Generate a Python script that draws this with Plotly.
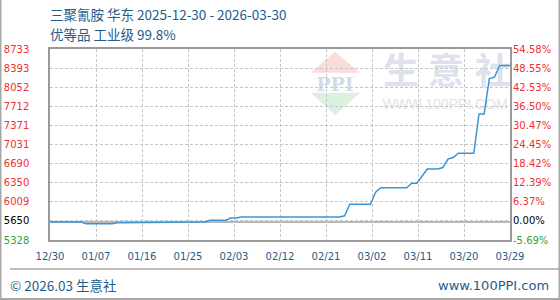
import numpy as np
import pandas as pd
import plotly.graph_objects as go

# ---------------- data ----------------
start_date = "2025-12-30"
end_date = "2026-03-29"
prices = (
    [5650] * 7 + [5620] * 6 + [5637] * 10 + [5650] * 8 + [5680] * 4 + [5720] * 2
    + [5740] * 20 + [5760] + [5965] * 5 + [6180] + [6260] * 6 + [6340] * 2
    + [6470] + [6595] * 3 + [6620] + [6770] + [6800] + [6875] * 4 + [7575] * 2
    + [8205] + [8230] + [8440] * 3
)
base_price = 5650
y_min, y_max = 5328.5, 8733.5
left_tick_labels = ["5328", "5650", "6009", "6350", "6690", "7031",
                    "7371", "7712", "8052", "8393", "8733"]
right_tick_labels = ["-5.69%", "0.00%", "6.37%", "12.39%", "18.42%", "24.45%",
                     "30.47%", "36.50%", "42.53%", "48.55%", "54.58%"]
x_tick_labels = ["12/30", "01/07", "01/16", "01/25", "02/03", "02/12",
                 "02/21", "03/02", "03/11", "03/20", "03/29"]
title_line1 = "三聚氰胺 华东 2025-12-30 - 2026-03-30"
title_line2 = "优等品 工业级 99.8%"
footer_left = "© 2026.03 生意社"
footer_right = "www.100PPI.com"

# ---------------- layout helpers ----------------
W, H = 560, 300
L, R, T, B = 50, 50, 49, 60
PW, PH = W - L - R, H - T - B


def px(x):
    return (x - L) / PW


def py(y):
    return (H - B - y) / PH


dates = pd.date_range(start_date, periods=len(prices), freq="D")
t0, t1 = pd.Timestamp(start_date), pd.Timestamp(end_date)
x_tickvals = [pd.Timestamp(int(v)).strftime("%Y-%m-%d %H:%M:%S")
              for v in np.linspace(t0.value, t1.value, len(x_tick_labels))]
y_tickvals = np.linspace(y_min, y_max, len(left_tick_labels))

RED, GREEN, BLACK = "#f03030", "#2fa52f", "#000000"
BLUE_TXT = "#1e5d8c"


def colored(labels):
    out = []
    for i, lab in enumerate(labels):
        if i == 1:
            c = BLACK
        elif i == 0:
            c = GREEN
        else:
            c = RED
        out.append(f"<span style='color:{c}'>{lab}</span>")
    return out


fig = go.Figure()
fig.add_trace(go.Scatter(x=dates, y=prices, mode="lines",
                         line=dict(color="#3a95d5", width=1.5),
                         hoverinfo="skip", showlegend=False))
fig.add_trace(go.Scatter(x=dates, y=prices, mode="lines", yaxis="y2",
                         line=dict(color="rgba(0,0,0,0)", width=0),
                         hoverinfo="skip", showlegend=False))

tick_font = dict(family="DejaVu Sans", size=10, color=BLUE_TXT)
fig.update_layout(
    width=W, height=H,
    margin=dict(l=L, r=R, t=T, b=B, pad=0),
    paper_bgcolor="white", plot_bgcolor="white",
    showlegend=False,
    xaxis=dict(
        type="date", range=[t0, t1], automargin=False,
        tickmode="array", tickvals=x_tickvals, ticktext=x_tick_labels,
        showgrid=True, gridcolor="#c6c6c6", griddash="3px,2px", gridwidth=1,
        showline=True, linecolor="#9a9a9a", linewidth=1.5, mirror=True,
        ticks="", tickfont=tick_font, zeroline=False, ticklabelstandoff=6,
    ),
    yaxis=dict(
        range=[y_min, y_max], tickmode="array", tickvals=y_tickvals,
        ticktext=colored(left_tick_labels), automargin=False,
        showgrid=True, gridcolor="#c6c6c6", griddash="3px,2px", gridwidth=1,
        showline=True, linecolor="#9a9a9a", linewidth=1.5, mirror=True,
        ticks="", tickfont=dict(family="DejaVu Sans", size=10), zeroline=False,
        ticklabelstandoff=17,
    ),
    yaxis2=dict(
        range=[y_min, y_max], tickmode="array", tickvals=y_tickvals,
        ticktext=colored(right_tick_labels), overlaying="y", side="right",
        showgrid=False, showline=False, ticks="", zeroline=False,
        automargin=False,
        tickfont=dict(family="DejaVu Sans", size=10), ticklabelstandoff=2,
    ),
)

shapes = []
# base price reference line
shapes.append(dict(type="line", xref="paper", yref="y", x0=0, x1=1,
                   y0=base_price, y1=base_price,
                   line=dict(color="#a0a0a0", width=1.5), layer="below"))
# watermark triangles
shapes.append(dict(type="path", xref="paper", yref="paper",
                   path=f"M {px(335)} {py(51.7)} L {px(310.7)} {py(72.7)} L {px(360)} {py(72.7)} Z",
                   fillcolor="#fadcdc", line=dict(width=0), layer="below"))
shapes.append(dict(type="path", xref="paper", yref="paper",
                   path=f"M {px(310.7)} {py(92.7)} L {px(360)} {py(92.7)} L {px(335)} {py(115)} Z",
                   fillcolor="#dcf0e0", line=dict(width=0), layer="below"))


def label_box(cx, cy, text, size, color, family, w=60, h=40):
    return dict(type="rect", xref="paper", yref="paper",
                x0=px(cx - w / 2), x1=px(cx + w / 2),
                y0=py(cy + h / 2), y1=py(cy - h / 2),
                line=dict(width=0), fillcolor="rgba(0,0,0,0)", layer="below",
                label=dict(text=text, textposition="middle center",
                           font=dict(size=size, color=color, family=family)))


shapes.append(label_box(335, 83, "<b>PPI</b>", 19, "#d3dae8", "DejaVu Serif"))
for cx, ch in zip([401, 446, 493], "生意社"):
    shapes.append(label_box(cx, 73.5, f"<b>{ch}</b>", 36, "#dde2ec",
                            "Noto Sans CJK SC"))
shapes.append(label_box(445, 103, "WWW.100PPI.COM", 14, "#e3e3e3",
                        "Liberation Sans", w=140, h=20))

# outer frame & separator
frame_col = "#a8a8a8"
shapes.append(dict(type="line", xref="paper", yref="paper",
                   x0=px(10), x1=px(560), y0=py(269), y1=py(269),
                   line=dict(color=frame_col, width=1.5)))
shapes.append(dict(type="line", xref="paper", yref="paper",
                   x0=px(0), x1=px(560), y0=py(299), y1=py(299),
                   line=dict(color=frame_col, width=2)))
shapes.append(dict(type="line", xref="paper", yref="paper",
                   x0=px(0.5), x1=px(0.5), y0=py(0), y1=py(300),
                   line=dict(color=frame_col, width=2)))
shapes.append(dict(type="line", xref="paper", yref="paper",
                   x0=px(559.5), x1=px(559.5), y0=py(0), y1=py(300),
                   line=dict(color=frame_col, width=2)))
fig.update_layout(shapes=shapes)

title_font = dict(family="Noto Sans CJK SC", size=13.5, color=BLUE_TXT)
annotations = [
    dict(text=title_line1, x=px(48), y=py(14), xref="paper", yref="paper",
         xanchor="left", yanchor="middle", showarrow=False, font=title_font),
    dict(text=title_line2, x=px(48), y=py(34), xref="paper", yref="paper",
         xanchor="left", yanchor="middle", showarrow=False, font=title_font),
    dict(text=footer_left, x=px(8), y=py(285), xref="paper", yref="paper",
         xanchor="left", yanchor="middle", showarrow=False, font=title_font),
    dict(text=footer_right, x=px(551), y=py(285), xref="paper", yref="paper",
         xanchor="right", yanchor="middle", showarrow=False,
         font=dict(family="DejaVu Sans", size=13, color=BLUE_TXT)),
]
fig.update_layout(annotations=annotations)

fig.write_html("out.html", config={"displayModeBar": False})
